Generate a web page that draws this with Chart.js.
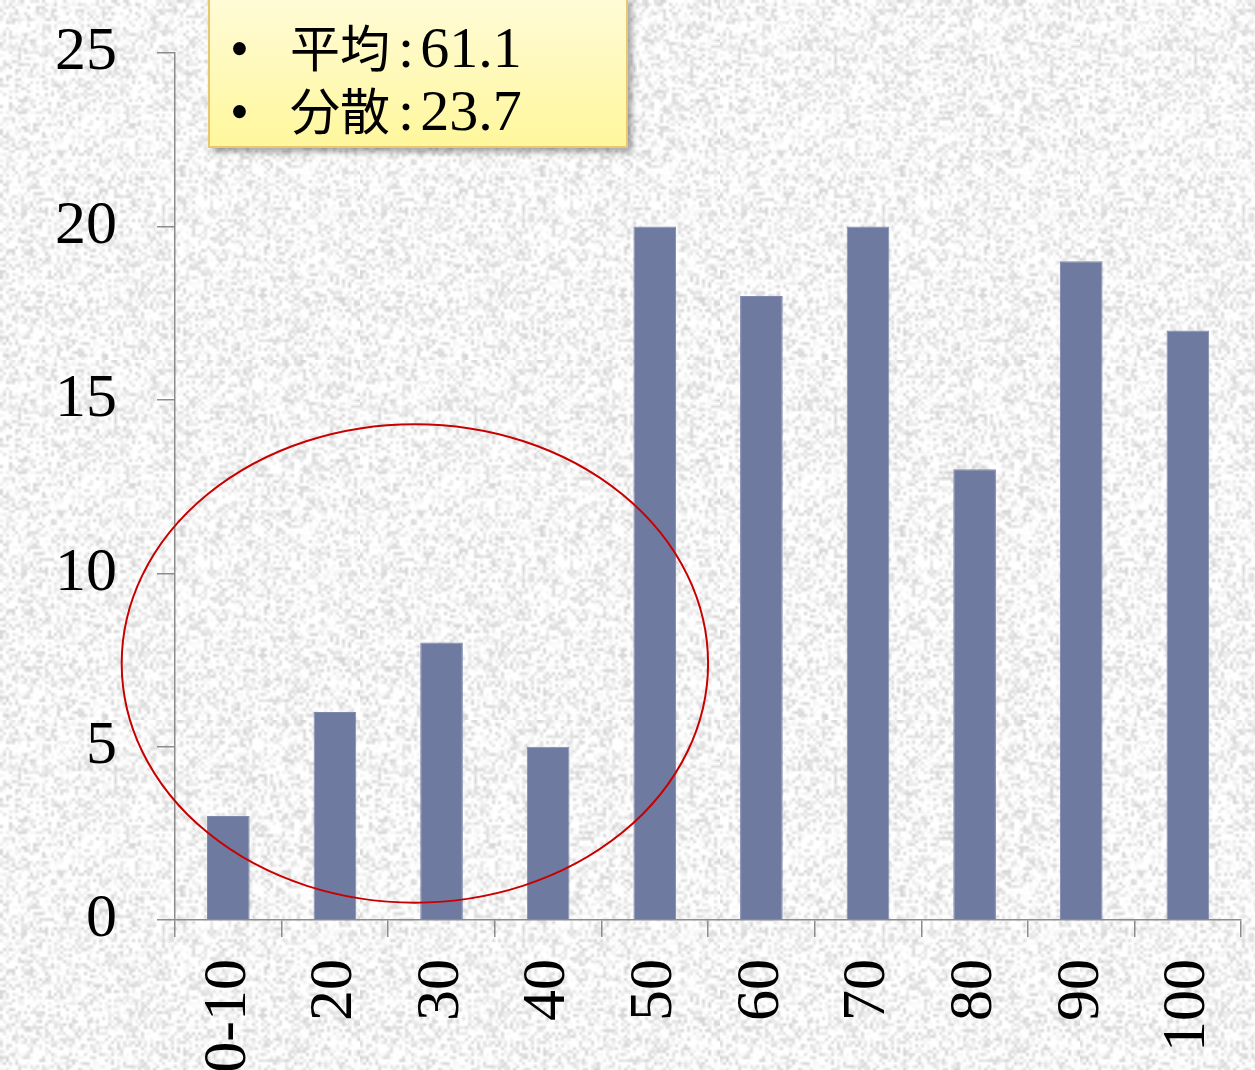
<!DOCTYPE html>
<html>
<head>
<meta charset="utf-8">
<script src="https://cdn.jsdelivr.net/npm/chart.js@4.4.1/dist/chart.umd.min.js"></script>
<style>
  html, body { margin: 0; padding: 0; }
  body { width: 1255px; height: 1070px; overflow: hidden; position: relative; background: #e6e6e6; }
  #chart { position: absolute; left: 0; top: -24px; }
  .note {
    position: absolute; left: 208px; top: -2px; width: 416px; height: 146px;
    background: linear-gradient(#fffbd6, #fff79c);
    border: 2px solid #e8c770;
    box-shadow: 4px 4px 6px rgba(0,0,0,0.35);
    font-family: "Liberation Serif", "Noto Sans CJK JP", serif;
    font-size: 58px; color: #000;
  }
  .note div { position: absolute; left: 20px; height: 62px; line-height: 62px; white-space: nowrap; }
  .note .b { display: inline-block; width: 60px; font-size: 54px; }
  .note .k { font-family: "Noto Sans CJK JP", sans-serif; font-size: 50px; }
  .note .c { margin: 0 6px 0 8px; }
</style>
</head>
<body>
<canvas id="chart" width="1285" height="1094"></canvas>
<div class="note">
  <div style="top:14px"><span class="b">•</span><span class="k">平均</span><span class="c">:</span>61.1</div>
  <div style="top:77px"><span class="b">•</span><span class="k">分散</span><span class="c">:</span>23.7</div>
</div>
<script>
const categories = ['0-10', '20', '30', '40', '50', '60', '70', '80', '90', '100'];
const counts = [3, 6, 8, 5, 20, 18, 20, 13, 19, 17];
const yTicks = [0, 5, 10, 15, 20, 25];
// red ellipse in data units (category index, value)
const ellipseCenter = [1.75, 7.4];
const ellipseRadius = [2.75, 6.9];

// speckled grey background texture (deterministic hash noise)
function makeTexture() {
  const small = document.createElement('canvas');
  small.width = 120; small.height = 120;
  const sctx = small.getContext('2d');
  const img = sctx.createImageData(120, 120);
  for (let i = 0; i < 120 * 120; i++) {
    let h = (i * 2654435761) >>> 0;
    h ^= h >>> 15; h = Math.imul(h, 2246822519) >>> 0; h ^= h >>> 13;
    const v = 250 - (h % 38);
    img.data[i * 4] = v; img.data[i * 4 + 1] = v; img.data[i * 4 + 2] = v; img.data[i * 4 + 3] = 255;
  }
  sctx.putImageData(img, 0, 0);
  const big = document.createElement('canvas');
  big.width = 360; big.height = 360;
  const bctx = big.getContext('2d');
  bctx.imageSmoothingEnabled = true;
  bctx.drawImage(small, 0, 0, 360, 360);
  document.body.style.backgroundImage = `url(${big.toDataURL()})`;
}
makeTexture();

const ellipsePlugin = {
  id: 'ellipse',
  afterDatasetsDraw(chart) {
    const { ctx, scales: { x, y } } = chart;
    const cx = x.getPixelForValue(ellipseCenter[0]);
    const cy = y.getPixelForValue(ellipseCenter[1]);
    const rx = x.getPixelForValue(ellipseCenter[0] + ellipseRadius[0]) - cx;
    const ry = cy - y.getPixelForValue(ellipseCenter[1] + ellipseRadius[1]);
    ctx.save();
    ctx.beginPath();
    ctx.ellipse(cx, cy, rx, ry, 0, 0, Math.PI * 2);
    ctx.strokeStyle = '#c80000';
    ctx.lineWidth = 2;
    ctx.stroke();
    ctx.restore();
  }
};

const serif = { family: '"Liberation Serif", "Times New Roman", serif', size: 62 };

new Chart(document.getElementById('chart'), {
  type: 'bar',
  data: {
    labels: categories,
    datasets: [{
      data: counts,
      backgroundColor: '#6f7aa1',
      borderColor: '#8089ad',
      borderWidth: 1,
      categoryPercentage: 1,
      barPercentage: 0.4
    }]
  },
  options: {
    responsive: false,
    animation: false,
    layout: { padding: { top: 51, right: 15, left: 0, bottom: 0 } },
    plugins: { legend: { display: false }, tooltip: { enabled: false } },
    scales: {
      x: {
        offset: true,
        grid: { display: true, drawOnChartArea: false, offset: true, tickLength: 17, color: '#8c8c8c', lineWidth: 1.5 },
        border: { color: '#8c8c8c', width: 1.5 },
        ticks: { color: '#000', font: serif, minRotation: 90, maxRotation: 90, padding: 22, autoSkip: false },
        afterFit(scale) { scale.height = 150; }
      },
      y: {
        min: 0,
        max: 25,
        afterBuildTicks(scale) { scale.ticks = yTicks.map(v => ({ value: v })); },
        grid: { display: true, drawOnChartArea: false, tickLength: 18, color: '#8c8c8c', lineWidth: 1.5 },
        border: { color: '#8c8c8c', width: 1.5 },
        ticks: { color: '#000', font: serif, padding: 40 },
        afterFit(scale) { scale.width = 175; }
      }
    }
  },
  plugins: [ellipsePlugin]
});
</script>
</body>
</html>
